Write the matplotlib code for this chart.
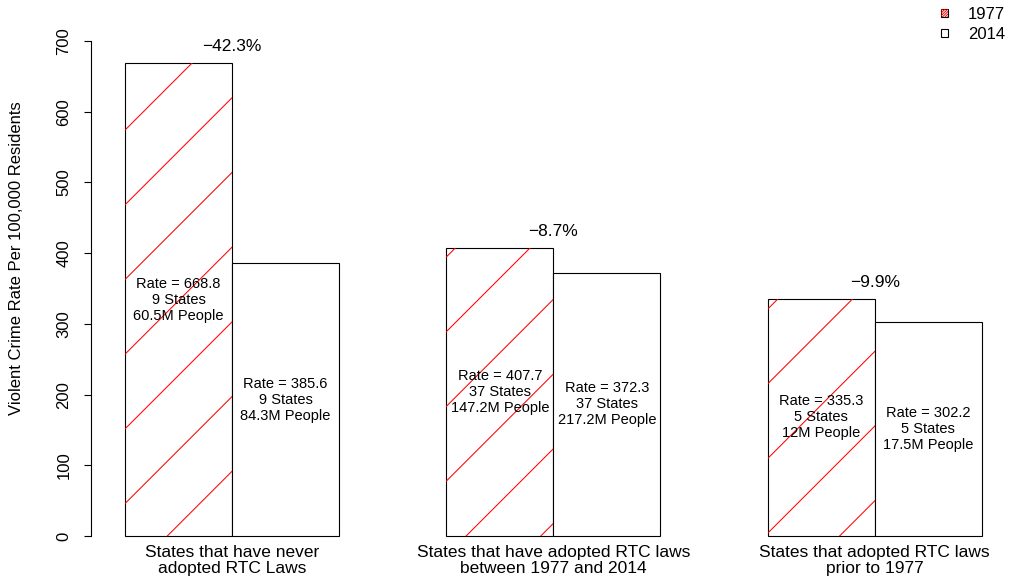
"""
Violent crime rate 1977 vs 2014, grouped by RTC law adoption
(R barplot look: hatched 1977 bars, white 2014 bars)
"""

import matplotlib
matplotlib.use('Agg')
from matplotlib import pyplot as plt
from matplotlib.patches import Rectangle
from matplotlib.lines import Line2D
import numpy as np

plt.rcParams['font.family'] = ['Liberation Sans', 'DejaVu Sans']

# Data
groups = ['States that have never\nadopted RTC Laws',
          'States that have adopted RTC laws\nbetween 1977 and 2014',
          'States that adopted RTC laws\nprior to 1977']
rate_1977 = [668.8, 407.7, 335.3]
rate_2014 = [385.6, 372.3, 302.2]
n_states = [9, 37, 5]
people_1977 = ['60.5M', '147.2M', '12M']
people_2014 = ['84.3M', '217.2M', '17.5M']
years = ['1977', '2014']

W, H = 1010, 580
fig = plt.figure(figsize=(W / 100, H / 100), dpi=100)
ax = fig.add_axes([90.7 / W, (H - 555.8) / H, 925.3 / W, 534.6 / H])
ax.set_xlim(0.68, 9.32)
ax.set_ylim(-28, 728)

# bar left edges: groups of two bars, one bar of space between groups
left_1977 = np.arange(len(groups)) * 3 + 1
left_2014 = left_1977 + 1

b1 = ax.bar(left_1977, rate_1977, width=1, align='edge',
            facecolor='white', edgecolor='black', linewidth=0.8)
b2 = ax.bar(left_2014, rate_2014, width=1, align='edge',
            facecolor='white', edgecolor='black', linewidth=0.8)


def hatch_lines(patch, bb, spacing, c0, to_coords, add):
    # 45 deg lines in device space: y = x - d, clipped to the patch
    for k in range(400):
        d = c0 + spacing * k - H
        if d < bb.x0 - bb.y1 - spacing or d > bb.x1 - bb.y0 + spacing:
            continue
        xs = np.array([bb.x0 - 5, bb.x1 + 5])
        pts = to_coords.transform(np.column_stack([xs, xs - d]))
        ln = add(pts)
        ln.set_clip_path(patch)


inv = ax.transData.inverted()
for p in b1.patches:
    hatch_lines(p, p.get_window_extent(), 74.7, 31, inv,
                lambda pts: ax.plot(pts[:, 0], pts[:, 1], color='red',
                                    lw=0.75, zorder=1.5)[0])

# text inside bars, % change above, group names below
for i in range(len(groups)):
    ax.text(left_1977[i] + 0.5, rate_1977[i] / 2,
            f'Rate = {rate_1977[i]}\n{n_states[i]} States\n{people_1977[i]} People',
            ha='center', va='center', fontsize=10.5, linespacing=1.18, zorder=3)
    ax.text(left_2014[i] + 0.5, rate_2014[i] / 2,
            f'Rate = {rate_2014[i]}\n{n_states[i]} States\n{people_2014[i]} People',
            ha='center', va='center', fontsize=10.5, linespacing=1.18, zorder=3)
    change = (rate_2014[i] / rate_1977[i] - 1) * 100
    ax.annotate(f'{change:.1f}%'.replace('-', '\u2212'),
                xy=(left_2014[i], max(rate_1977[i], rate_2014[i])),
                xytext=(0, 8.5), textcoords='offset points',
                ha='center', va='baseline', fontsize=12.5)
    ax.text(left_2014[i], 0.021, groups[i], transform=ax.get_xaxis_transform(),
            ha='center', va='top', fontsize=12.5, linespacing=1.15)

# axes styling
for s in ['top', 'right', 'bottom']:
    ax.spines[s].set_visible(False)
ax.spines['left'].set_bounds(0, 700)
ax.spines['left'].set_linewidth(0.8)
ax.set_xticks([])
ax.set_yticks(range(0, 701, 100))
ax.tick_params(axis='y', length=5, width=0.8, pad=9, labelsize=12)
for t in ax.get_yticklabels():
    t.set_rotation(90)
    t.set_va('center')

fig.text(17 / W, 1 - 258 / H, 'Violent Crime Rate Per 100,000 Residents',
         rotation=90, ha='center', va='center', fontsize=12)

# legend drawn by hand (R style small squares)
box = 7.5
finv = fig.transFigure.inverted()
for j, yc in enumerate([13, 33]):
    x0, y0 = 940.5 / W, (H - yc - box / 2) / H
    sq = Rectangle((x0, y0), box / W, box / H, transform=fig.transFigure,
                   facecolor='white', edgecolor='black', linewidth=0.8)
    fig.patches.append(sq)
    if j == 0:
        bb = matplotlib.transforms.Bbox.from_extents(940.5, H - yc - box / 2,
                                                     940.5 + box, H - yc + box / 2)

        def add_line(pts):
            ln = Line2D(pts[:, 0], pts[:, 1], color='red', lw=0.7,
                        transform=fig.transFigure)
            fig.lines.append(ln)
            return ln
        hatch_lines(sq, bb, 2.6, 0, finv, add_line)
    fig.text(968 / W, 1 - yc / H, years[j], ha='left', va='center_baseline', fontsize=12)

plt.savefig('out.png', dpi=100)
